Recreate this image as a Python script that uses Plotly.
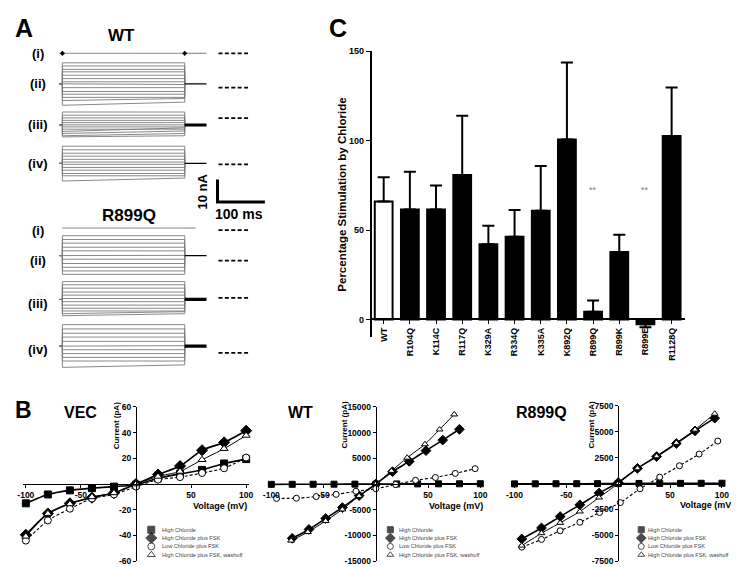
import plotly.graph_objects as go

W, H = 739, 567
FONT = "Liberation Sans, Arial, sans-serif"

# ---------------- Panel C: percentage stimulation by chloride
mutants = ["WT", "R104Q", "K114C", "R117Q", "K329A", "R334Q", "K335A",
           "K892Q", "R899Q", "R899K", "R899E", "R1128Q"]
stim_mean = [66.0, 61.5, 61.5, 80.8, 42.1, 46.3, 60.8, 100.7, 4.4, 37.7, -2.6, 102.6]
stim_sem = [13.6, 21.1, 13.5, 33.1, 10.3, 14.9, 25.1, 43.1, 6.2, 9.7, 1.8, 27.1]
sig_mutants = ["R899Q", "R899E"]
sig_text = "**"
sig_level = 72.7
c_yticks = [0, 50, 100, 150]
c_ytitle = "Percentage Stimulation by Chloride"

# ---------------- Panel B: current-voltage relationships (mV, pA)
iv_names = ["High Chloride", "High Chloride plus FSK",
            "Low Chloride plus FSK", "High Chloride plus FSK, washoff"]

vec_hc_v = [-100, -80, -60, -40, -20, 0, 20, 40, 60, 80, 100]
vec_hc_i = [-15.0, -8.1, -4.9, -3.2, -2.0, -0.5, 4.5, 7.9, 11.0, 16.0, 19.4]
vec_fsk_v = [-100, -80, -60, -40, -20, 0, 20, 40, 60, 80, 100]
vec_fsk_i = [-39.5, -22.9, -15.0, -10.6, -6.9, 0.0, 7.4, 14.0, 26.3, 32.4, 41.5]
vec_low_v = [-100, -80, -60, -40, -20, 0, 20, 40, 60, 80, 100]
vec_low_i = [-44.0, -28.3, -19.2, -11.3, -8.1, -2.0, 3.4, 5.4, 8.6, 12.3, 20.6]
vec_wash_v = [-100, -80, -60, -40, -20, 0, 20, 40, 60, 80, 100]
vec_wash_i = [-40.7, -23.0, -15.5, -10.0, -6.9, 0.0, 5.9, 9.8, 18.9, 27.5, 37.8]

wt_hc_v = [-100, -80, -60, -40, -20, 0, 20, 40, 60, 80, 100]
wt_hc_i = [-60, -50, -40, -30, -20, 0, 20, 30, 40, 50, 60]
wt_fsk_v = [-80, -64, -48, -32, -16, 0, 16, 32, 48, 64, 80]
wt_fsk_i = [-10550, -8830, -6700, -4570, -2250, 0, 2400, 4400, 6500, 8550, 10650]
wt_low_v = [-95, -76, -57, -38, -19, 0, 19, 38, 57, 76, 95]
wt_low_i = [-2800, -2760, -2440, -2010, -1400, -910, -100, 730, 1280, 2070, 2990]
wt_wash_v = [-81, -65, -48, -32, -16, 0, 15, 30, 47, 61, 75]
wt_wash_i = [-11000, -9330, -7180, -4940, -2320, 0, 2560, 5120, 7740, 10610, 13540]

r899q_hc_v = [-100, -80, -60, -40, -20, 0, 20, 40, 60, 80, 100]
r899q_hc_i = [-30, -25, -20, -15, -10, 0, 10, 15, 20, 25, 30]
r899q_fsk_v = [-93, -74, -56, -37, -18.5, 0, 18.5, 37, 56, 74, 93]
r899q_fsk_i = [-5350, -4290, -3190, -2055, -920, 100, 1470, 2610, 3870, 5090, 6320]
r899q_low_v = [-93, -74, -56, -37, -18, 2, 21, 40, 59, 78, 96]
r899q_low_i = [-6150, -5400, -4560, -3740, -2800, -1840, -500, 620, 1720, 2850, 4110]
r899q_wash_v = [-93, -74, -56, -37, -18.5, 0, 18.5, 37, 56, 74, 93]
r899q_wash_i = [-6000, -4800, -3800, -2700, -1350, 0, 1470, 2640, 3930, 5210, 6750]

vec_yticks = [-60, -40, -20, 20, 40, 60]
wt_yticks = [-15000, -10000, -5000, 5000, 10000, 15000]
r899q_yticks = [-7500, -5000, -2500, 2500, 5000, 7500]
iv_xticks = [-100, -50, 50, 100]

# ---------------- Panel A: current families (nA, relative to zero-current level)
# start / end of each sweep during the voltage pulse
wt_i_start = [0.0]
wt_i_end = [0.0]
wt_ii_start = [11.0, 9.6, 8.1, 7.0, 5.5, 4.0, 2.6, 1.4, 0.0, -1.7, -2.9, -4.3, -5.7, -7.8]
wt_ii_end = [11.0, 9.6, 8.1, 7.0, 5.5, 4.0, 2.6, 1.4, 0.0, -1.7, -2.9, -4.3, -4.8, -6.4]
wt_iii_start = [2.7, 1.3, 0.1, -1.0, -2.0, -3.0, -3.9, -4.9, -5.9, -6.8, -7.8, -8.3]
wt_iii_end = [2.7, 1.3, 0.1, -1.0, -2.0, -3.0, -3.9, -4.9, -4.3, -5.7, -6.8, -7.8]
wt_iv_start = [8.0, 6.4, 4.9, 3.6, 2.2, 1.0, 0.0, -1.4, -2.6, -4.1, -5.1, -7.4]
wt_iv_end = [8.0, 6.4, 4.9, 3.6, 2.2, 1.0, 0.0, -1.4, -2.6, -4.1, -5.1, -6.1]
wt_hold = [0.0, 1.7, -3.0, 0.4]           # holding / tail current per row (i)-(iv)

r899q_i_start = [0.9]
r899q_i_end = [0.9]
r899q_ii_start = [11.0, 9.3, 7.7, 5.9, 4.3, 2.3, 0.6, -1.3, -3.0, -4.6, -6.1]
r899q_ii_end = [11.0, 9.3, 7.7, 5.9, 4.3, 2.3, 0.6, -1.3, -3.0, -4.6, -6.1]
r899q_iii_start = [7.2, 5.8, 4.3, 2.6, 1.2, -0.3, -1.7, -3.2, -4.6, -5.8, -7.0, -7.9]
r899q_iii_end = [7.2, 5.8, 4.3, 2.6, 1.2, -0.3, -1.7, -3.2, -4.6, -5.8, -6.1, -7.0]
r899q_iv_start = [12.5, 10.6, 8.7, 7.0, 5.1, 3.2, 1.4, -0.3, -2.0, -3.6, -6.4]
r899q_iv_end = [12.5, 10.6, 8.7, 7.0, 5.1, 3.2, 1.4, -0.3, -2.0, -3.6, -5.3]
r899q_hold = [0.9, 2.2, -0.7, 3.0]

row_labels = ["(i)", "(ii)", "(iii)", "(iv)"]
pulse_ms = 258
tail_ms = 304
scale_nA = 10
scale_ms = 100

# =====================================================================
def fxp(p):
    return p / W


def fyp(p):
    return 1 - p / H


def ann(text, x, y, size, bold=True, angle=0, xanchor="center",
        yanchor="middle", color="black"):
    return dict(text=text, x=fxp(x), y=fyp(y), xref="paper", yref="paper",
                showarrow=False, textangle=angle, xanchor=xanchor,
                yanchor=yanchor, borderpad=0,
                font=dict(family=FONT, size=size, color=color,
                          weight="bold" if bold else "normal"))


fig = go.Figure()
annotations = []

# ---------------- Panel C
err_up = [s if m >= 0 else 0 for m, s in zip(stim_mean, stim_sem)]
err_dn = [0 if m >= 0 else s for m, s in zip(stim_mean, stim_sem)]
fig.add_trace(go.Bar(
    x=mutants, y=stim_mean, width=0.68,
    marker=dict(color=["white"] + ["black"] * (len(mutants) - 1),
                line=dict(color="black", width=2)),
    error_y=dict(type="data", symmetric=False, array=err_up, arrayminus=err_dn,
                 color="black", thickness=2, width=6),
    xaxis="x", yaxis="y", showlegend=False))
for m in sig_mutants:
    annotations.append(dict(text=sig_text, x=m, y=sig_level, xref="x", yref="y",
                            showarrow=False,
                            font=dict(family=FONT, size=9, color="#808080")))

c_x0, c_x1, c_top, c_bot, c_zero = 362, 680, 39, 330, 312
c_ymin = -(c_bot - c_zero) / ((c_zero - c_top) / 150.0)
axis_font = dict(family=FONT, size=9, color="black", weight="bold")
layout_axes = dict(
    xaxis=dict(domain=[fxp(c_x0), fxp(c_x1)], anchor="free", position=fyp(c_zero),
               type="category", range=[-0.5, len(mutants) - 0.5],
               showline=True, linecolor="black", linewidth=1.5,
               ticks="outside", ticklen=4, tickwidth=1.2, tickcolor="black",
               tickangle=-90, tickfont=axis_font, showgrid=False, zeroline=False,
               ticklabeloverflow="allow"),
    yaxis=dict(domain=[fyp(c_bot), fyp(c_top)], anchor="free", position=fxp(c_x0),
               range=[c_ymin, 150], tickmode="array", tickvals=c_yticks,
               ticktext=[str(t) for t in c_yticks],
               showline=True, linecolor="black", linewidth=1.5,
               ticks="outside", ticklen=4, tickwidth=1.2, tickcolor="black",
               tickfont=axis_font, showgrid=False, zeroline=False,
               ticklabeloverflow="allow"),
)
annotations.append(ann(c_ytitle, 333, 185, 11.5, angle=-90))

# ---------------- Panel B
iv_style = [
    dict(symbol="square", fill="black", dash="solid", lw=1.6),
    dict(symbol="diamond", fill="black", dash="solid", lw=1.6),
    dict(symbol="circle", fill="white", dash="3px,2px", lw=1.1),
    dict(symbol="triangle-up", fill="white", dash="solid", lw=1.0),
]

iv_panels = [
    dict(name="VEC", xa="x2", ya="y2",
         data=[(vec_hc_v, vec_hc_i), (vec_fsk_v, vec_fsk_i),
               (vec_low_v, vec_low_i), (vec_wash_v, vec_wash_i)],
         yr=60, yticks=vec_yticks, x0=124.5, xs=1.115, y0=479.5, ytop=401.0,
         msize=7, title_x=68, vt_x=238, cur_x=105, cur_y=420,
         leg_mx=140, leg_tx=150),
    dict(name="WT", xa="x3", ya="y3",
         data=[(wt_hc_v, wt_hc_i), (wt_fsk_v, wt_fsk_i),
               (wt_low_v, wt_low_i), (wt_wash_v, wt_wash_i)],
         yr=15000, yticks=wt_yticks, x0=367.3, xs=1.058, y0=479.5, ytop=401.0,
         msize=6, title_x=291, vt_x=477, cur_x=336, cur_y=419,
         leg_mx=382, leg_tx=390),
    dict(name="R899Q", xa="x4", ya="y4",
         data=[(r899q_hc_v, r899q_hc_i), (r899q_fsk_v, r899q_fsk_i),
               (r899q_low_v, r899q_low_i), (r899q_wash_v, r899q_wash_i)],
         yr=7500, yticks=r899q_yticks, x0=612.7, xs=1.05, y0=479.0, ytop=400.0,
         msize=6, title_x=535, vt_x=731, cur_x=586, cur_y=419,
         leg_mx=636, leg_tx=642),
]
legend_rows_px = [526, 534.5, 543, 551.5]
XR = 103
for k, p in enumerate(iv_panels):
    idx = k + 2
    for (v, cur), st in zip(p["data"], iv_style):
        fig.add_trace(go.Scatter(
            x=v, y=cur, mode="lines", xaxis=p["xa"], yaxis=p["ya"],
            line=dict(color="black", width=st["lw"], dash=st["dash"],
                      shape="spline", smoothing=0.6),
            showlegend=False, hoverinfo="skip"))
    for (v, cur), st in zip(p["data"], iv_style):
        size = p["msize"] + (1.5 if st["symbol"] == "diamond" else 0)
        fig.add_trace(go.Scatter(
            x=v, y=cur, mode="markers", xaxis=p["xa"], yaxis=p["ya"],
            marker=dict(symbol=st["symbol"], color=st["fill"], size=size,
                        line=dict(color="black", width=1)),
            cliponaxis=False, showlegend=False, hoverinfo="skip"))
    half = XR * p["xs"]
    ypx_per = (p["y0"] - p["ytop"]) / p["yr"]
    ybot = p["y0"] + p["yr"] * ypx_per
    tf = dict(family=FONT, size=8.5, color="black", weight="bold")
    layout_axes["xaxis%d" % idx] = dict(
        domain=[fxp(p["x0"] - half), fxp(p["x0"] + half)], anchor="free",
        position=fyp(p["y0"]), range=[-XR, XR], tickmode="array",
        tickvals=iv_xticks, ticktext=[str(t) for t in iv_xticks],
        showline=True, linecolor="black", linewidth=1.2, ticks="outside",
        ticklen=3, tickcolor="black", tickfont=tf, showgrid=False,
        zeroline=False, ticklabeloverflow="allow")
    layout_axes["yaxis%d" % idx] = dict(
        domain=[fyp(ybot), fyp(p["ytop"])], anchor="free",
        position=fxp(p["x0"]), range=[-p["yr"], p["yr"]], tickmode="array",
        tickvals=p["yticks"], ticktext=[str(t) for t in p["yticks"]],
        showline=True, linecolor="black", linewidth=1.2, ticks="outside",
        ticklen=3, tickcolor="black", tickfont=tf, showgrid=False,
        zeroline=False, ticklabeloverflow="allow")
    annotations.append(ann(p["name"], p["title_x"], 407, 16))
    annotations.append(ann("Voltage (mV)", p["vt_x"], p["y0"] + 22, 9, xanchor="right"))
    annotations.append(ann("Current (pA)", p["cur_x"], p["cur_y"], 8, angle=-90))
    # legend (drawn on an overlay pixel axis)
    fig.add_trace(go.Scatter(
        x=[p["leg_mx"]] * len(iv_names), y=legend_rows_px, mode="markers",
        xaxis="x6", yaxis="y6",
        marker=dict(symbol=[s["symbol"] for s in iv_style],
                    color=[s["fill"] for s in iv_style],
                    size=[p["msize"], p["msize"] + 1.5, p["msize"], p["msize"]],
                    line=dict(color="black", width=1)),
        showlegend=False, hoverinfo="skip"))
    for nm, ry in zip(iv_names, legend_rows_px):
        annotations.append(ann(nm, p["leg_tx"], ry, 5.6, bold=False,
                               xanchor="left", color="#444444"))

annotations.append(ann("B", 11, 404, 23))

# ---------------- Panel A
MS_PX = 0.48   # px per ms
NA_PX = 2.3    # px per nA
T0_PX = 50     # x pixel of pulse start
A_W, A_H = 320, 380

def ay(px):
    return -px / NA_PX

wt_rows = [(wt_i_start, wt_i_end), (wt_ii_start, wt_ii_end),
           (wt_iii_start, wt_iii_end), (wt_iv_start, wt_iv_end)]
r_rows = [(r899q_i_start, r899q_i_end), (r899q_ii_start, r899q_ii_end),
          (r899q_iii_start, r899q_iii_end), (r899q_iv_start, r899q_iv_end)]
groups = [
    dict(rows=wt_rows, hold=wt_hold, zero_px=[41, 76, 107, 154],
         label_px=[41, 72, 113.5, 153], tail_w=[1, 1.3, 3, 1.3],
         tail_end=[tail_ms, tail_ms, tail_ms, tail_ms], arrows=True),
    dict(rows=r_rows, hold=r899q_hold, zero_px=[221, 252, 290, 346],
         label_px=[221, 252, 296, 343], tail_w=[1, 1.3, 3.2, 3.2],
         tail_end=[281, tail_ms, tail_ms, tail_ms], arrows=False),
]
for g in groups:
    for r, ((st, en), hold) in enumerate(zip(g["rows"], g["hold"])):
        off = ay(g["zero_px"][r])
        xs, ys = [], []
        if r == 0:
            xs = [0, pulse_ms]
            ys = [off + st[0], off + en[0]]
        else:
            for s, e in zip(st, en):
                xs += [-6, 0, 0, pulse_ms, pulse_ms, None]
                ys += [off + hold, off + hold, off + s, off + e, off + hold, None]
        fig.add_trace(go.Scatter(x=xs, y=ys, mode="lines", xaxis="x5", yaxis="y5",
                                 line=dict(color="#7a7a7a", width=0.9),
                                 showlegend=False, hoverinfo="skip"))
        # tail current after the pulse
        fig.add_trace(go.Scatter(
            x=[pulse_ms, g["tail_end"][r]], y=[off + hold, off + hold], mode="lines",
            xaxis="x5", yaxis="y5",
            line=dict(color="#7a7a7a" if r == 0 else "black", width=g["tail_w"][r]),
            showlegend=False, hoverinfo="skip"))
        if r == 0 and g["arrows"]:
            fig.add_trace(go.Scatter(
                x=[0, pulse_ms], y=[off + hold, off + hold], mode="markers",
                xaxis="x5", yaxis="y5",
                marker=dict(symbol="diamond", size=4, color="black"),
                showlegend=False, hoverinfo="skip"))
        # zero-current reference (dashed)
        fig.add_trace(go.Scatter(
            x=[(208 - T0_PX) / MS_PX, (240 - T0_PX) / MS_PX], y=[off, off],
            mode="lines", xaxis="x5", yaxis="y5",
            line=dict(color="black", width=1.8, dash="4px,2.4px"),
            showlegend=False, hoverinfo="skip"))
        annotations.append(ann(row_labels[r], 25, g["label_px"][r], 13))

# scale bar
sb_t = (207 - T0_PX) / MS_PX
sb_y = ay(192.5)
fig.add_trace(go.Scatter(
    x=[sb_t, sb_t, sb_t + scale_ms], y=[sb_y + scale_nA, sb_y, sb_y],
    mode="lines", xaxis="x5", yaxis="y5",
    line=dict(color="black", width=3), showlegend=False, hoverinfo="skip"))
annotations.append(ann("%d nA" % scale_nA, 192, 182, 13, angle=-90))
annotations.append(ann("%d ms" % scale_ms, 229, 205, 14))
annotations.append(ann("WT", 110, 23, 17))
annotations.append(ann("R899Q", 117.5, 206.5, 17))
annotations.append(ann("A", 11, 15, 25))
annotations.append(ann("C", 329, 15, 25))

layout_axes["xaxis5"] = dict(domain=[0, fxp(A_W)], anchor="y5",
                             range=[-T0_PX / MS_PX, (A_W - T0_PX) / MS_PX],
                             visible=False)
layout_axes["yaxis5"] = dict(domain=[fyp(A_H), 1], anchor="x5",
                             range=[ay(A_H), 0], visible=False)
layout_axes["xaxis6"] = dict(domain=[0, 1], anchor="y6", range=[0, W], visible=False)
layout_axes["yaxis6"] = dict(domain=[0, 1], anchor="x6", range=[H, 0], visible=False)

fig.update_layout(
    width=W, height=H, margin=dict(l=0, r=0, t=0, b=0),
    paper_bgcolor="white", plot_bgcolor="rgba(0,0,0,0)",
    showlegend=False, hovermode=False, bargap=0.3,
    annotations=annotations, **layout_axes)

fig.write_html("out.html")
